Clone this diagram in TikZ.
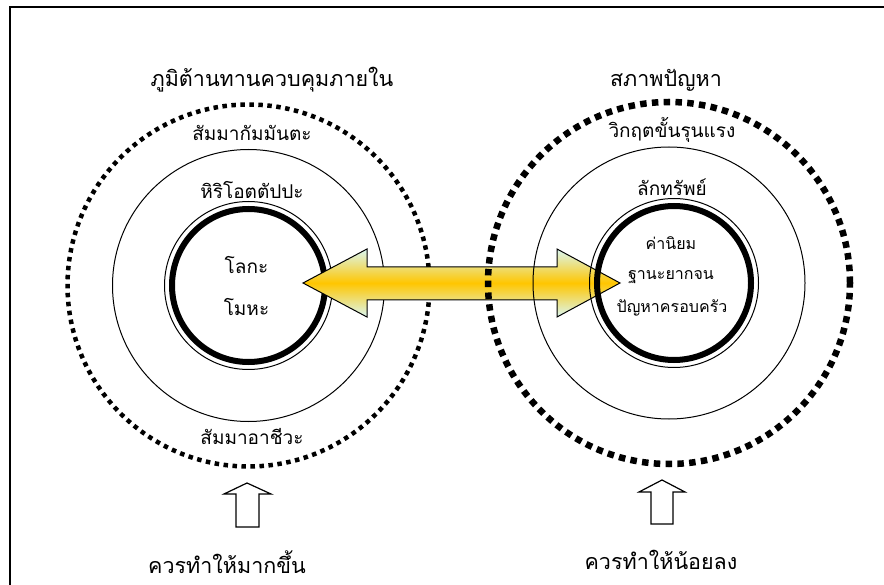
\documentclass[tikz,border=0pt]{standalone}
\usepackage{fontspec}
\usetikzlibrary{calc}
\newfontfamily\thaifont[Script=Thai]{Loma}
\definecolor{arrtop}{RGB}{218,247,243}
\definecolor{arrmid}{RGB}{255,198,0}
\begin{document}
\begin{tikzpicture}[x=1pt,y=-1pt,
  framel/.style={line width=2pt},
  thinring/.style={line width=1pt},
  thickring/.style={line width=6pt},
  dotringL/.style={line width=4.5pt, dash pattern=on 4.5pt off 4.5pt},
  dotringR/.style={line width=6.5pt, dash pattern=on 6.5pt off 5.3pt},
  bigarrow/.style={draw=black, line width=1pt, line join=miter, top color=arrtop, bottom color=arrtop, middle color=arrmid},
  uparrow/.style={draw=black, line width=1.2pt, fill=white, line join=miter},
  lbl/.style={font=\thaifont\fontsize{19}{21}\selectfont, inner sep=0pt},
  inlbl/.style={font=\thaifont\fontsize{16}{18}\selectfont, inner sep=0pt},
  ttl/.style={font=\thaifont\fontsize{21.5}{24}\selectfont, inner sep=0pt}]
\useasboundingbox (0,0) rectangle (884,585);
% frame (top and left edges)
\coordinate (fa) at (9.5,586);
\coordinate (fb) at (9.5,7.5);
\coordinate (fc) at (885,7.5);
\draw[framel] (fa) -- (fb) -- (fc);
% centres
\coordinate (LC) at (248.5,285.5);
\coordinate (RC) at (669,283);
\coordinate (RI) at (674,283);
% left circles
\draw[dotringL] (LC) circle[radius=181pt];
\draw[thinring] (LC) circle[radius=136pt];
\draw[thinring] (LC) circle[radius=84pt];
\draw[thickring] (LC) circle[radius=76.5pt];
% double arrow
\path[bigarrow] (303,283) -- (367,249) -- (367,267) -- (557,267) -- (557,249) -- (620,283)
  -- (557,317) -- (557,300) -- (367,300) -- (367,317) -- cycle;
% right circles
\draw[dotringR] (RC) circle[radius=181pt];
\draw[thinring] (RC) circle[radius=136pt];
\draw[thinring] (RI) circle[radius=84.5pt];
\draw[thickring] (RI) circle[radius=77pt];
% up arrows
\path[uparrow] (247,483) -- (271,494) -- (259,494) -- (259,527) -- (236,527) -- (236,494) -- (224,494) -- cycle;
\path[uparrow] (662,480) -- (685,492) -- (673,492) -- (673,524) -- (651,524) -- (651,492) -- (639,492) -- cycle;
% texts left
\node[ttl] (t1) at (272,80) {ภูมิต้านทานควบคุมภายใน};
\node[lbl] (t2) at (252,133) {สัมมากัมมันตะ};
\node[lbl] (t3) at (252,190) {หิริโอตตัปปะ};
\node[lbl] (t4) at (246.5,265) {โลกะ};
\node[lbl] (t5) at (246.5,307) {โมหะ};
\node[lbl] (t6) at (252,437) {สัมมาอาชีวะ};
\node[ttl] (t7) at (227,562) {ควรทำให้มากขึ้น};
% texts right
\node[ttl] (r1) at (666,80) {สภาพปัญหา};
\node[lbl] (r2) at (672,130) {วิกฤตขั้นรุนแรง};
\node[lbl] (r3) at (672,187) {ลักทรัพย์};
\node[inlbl] (r4) at (671,243) {ค่านิยม};
\node[inlbl] (r5) at (671,277) {ฐานะยากจน};
\node[inlbl] (r6) at (672,308) {ปัญหาครอบครัว};
\node[ttl] (r7) at (661,560) {ควรทำให้น้อยลง};
\end{tikzpicture}
\end{document}
